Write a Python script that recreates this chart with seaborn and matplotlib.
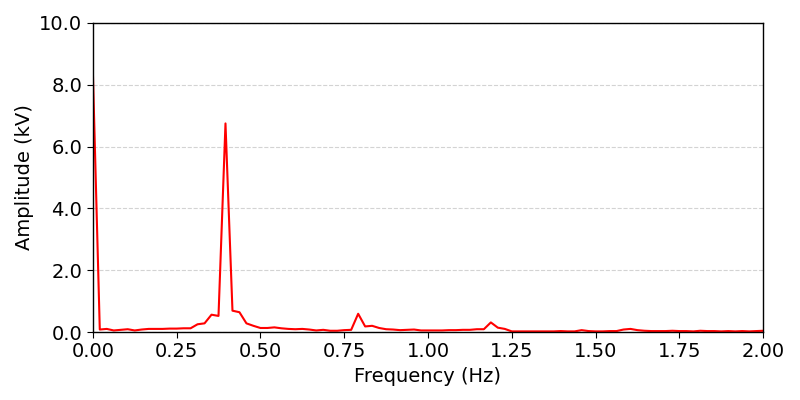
import numpy as np
import matplotlib.pyplot as plt
import seaborn as sns
import pandas as pd

# spectrum, step 1/48 Hz from 0 to 2 Hz
df_hz = 1 / 48
amplitude_kv = [
    8.5, 0.08, 0.10, 0.05, 0.07, 0.09, 0.05, 0.08, 0.10, 0.10,
    0.10, 0.11, 0.11, 0.12, 0.12, 0.25, 0.28, 0.56, 0.52, 6.75,
    0.69, 0.64, 0.28, 0.20, 0.13, 0.13, 0.15, 0.12, 0.10, 0.09,
    0.10, 0.08, 0.05, 0.07, 0.04, 0.04, 0.06, 0.07, 0.59, 0.18,
    0.20, 0.13, 0.09, 0.08, 0.06, 0.07, 0.08, 0.05, 0.05, 0.05,
    0.05, 0.06, 0.06, 0.07, 0.07, 0.09, 0.09, 0.31, 0.14, 0.10,
    0.02, 0.02, 0.02, 0.02, 0.02, 0.02, 0.02, 0.03, 0.02, 0.02,
    0.06, 0.03, 0.02, 0.02, 0.03, 0.03, 0.08, 0.10, 0.06, 0.04,
    0.03, 0.03, 0.03, 0.04, 0.03, 0.03, 0.02, 0.04, 0.03, 0.03,
    0.02, 0.03, 0.02, 0.03, 0.02, 0.03, 0.04,
]
freq_hz = np.arange(len(amplitude_kv)) * df_hz

data = pd.DataFrame({'Frequency (Hz)': freq_hz, 'Amplitude (kV)': amplitude_kv})

sns.set_style('ticks')
plt.rcParams['font.family'] = ['DejaVu Sans']
plt.rcParams.update({'text.color': 'black', 'axes.labelcolor': 'black',
                     'xtick.color': 'black', 'ytick.color': 'black'})
fig = plt.figure(figsize=(8, 4), dpi=100)
ax = fig.add_axes([0.116, 0.17, 0.838, 0.7725])
sns.lineplot(data, x='Frequency (Hz)', y='Amplitude (kV)', color='red', linewidth=1.5, ax=ax)
ax.set_xlim(0, 2.0)
ax.set_ylim(0, 10.0)
ax.set_xticks([0, 0.25, 0.5, 0.75, 1.0, 1.25, 1.5, 1.75, 2.0])
ax.set_yticks([0, 2, 4, 6, 8, 10])
ax.xaxis.set_major_formatter(plt.FormatStrFormatter('%.2f'))
ax.yaxis.set_major_formatter(plt.FormatStrFormatter('%.1f'))
ax.tick_params(labelsize=14, direction='out', length=4, color='black', labelcolor='black')
ax.set_xlabel('Frequency (Hz)', fontsize=14)
ax.set_ylabel('Amplitude (kV)', fontsize=14)
ax.yaxis.grid(True, linestyle='--', color='lightgray', linewidth=0.8)
for s in ax.spines.values():
    s.set_color('black')
    s.set_linewidth(1.0)
plt.savefig('out.png', dpi=100)
